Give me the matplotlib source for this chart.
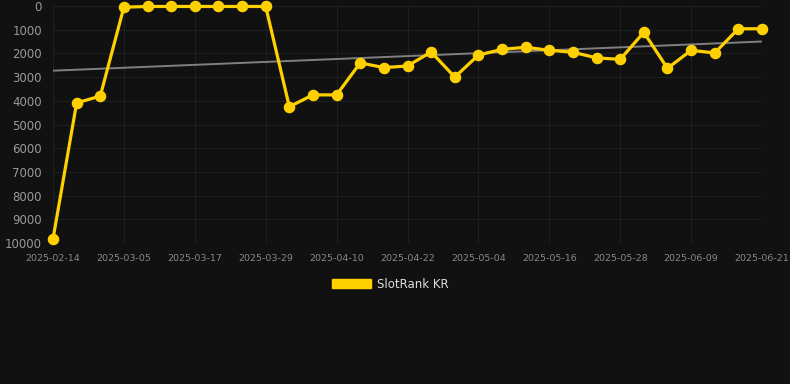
import matplotlib.pyplot as plt
from matplotlib.patches import Patch
import numpy as np

# rank values, one point per sample (category axis)
ranks = [9830, 4090, 3800,
         50, 20, 20, 20, 20, 20, 20,
         4250, 3750, 3750, 2400, 2600, 2530, 1940, 3000, 2070,
         1830, 1740, 1870, 1950, 2190, 2250, 1110, 2630, 1870,
         1980, 960, 960]
# labels shown every 3rd point
tick_labels = ['2025-02-14', '2025-03-05', '2025-03-17', '2025-03-29',
               '2025-04-10', '2025-04-22', '2025-05-04', '2025-05-16',
               '2025-05-28', '2025-06-09', '2025-06-21']
series_name = 'SlotRank KR'

bg = '#111111'
gold = '#FFD000'

fig = plt.figure(figsize=(7.9, 3.84), dpi=100, facecolor=bg)
ax = fig.add_axes([53/790, 1 - 243/384, (762 - 53)/790, (243 - 6)/384])
ax.set_facecolor(bg)

x = np.arange(len(ranks))
y = np.array(ranks, dtype=float)

# trend line (linear fit)
k, b = np.polyfit(x, y, 1)
ax.plot(x, k*x + b, color='#808080', lw=1.4, zorder=2)

ax.plot(x, y, color=gold, lw=2.3, marker='o', ms=7.3, zorder=3, clip_on=False)

ax.set_xlim(0, len(ranks) - 1)
ax.set_ylim(10000, 0)
ax.set_yticks(np.arange(0, 10001, 1000))
ax.set_xticks(x[::3])
ax.set_xticklabels(tick_labels)

ax.grid(True, color='#1f1f1f', lw=0.8)
for s in ax.spines.values():
    s.set_visible(False)
ax.tick_params(axis='y', length=0, pad=8, labelsize=8.5, labelcolor='#999999')
ax.tick_params(axis='x', length=0, pad=8, labelsize=6.8, labelcolor='#888888')

handle = Patch(facecolor=gold, edgecolor=gold)
fig.legend([handle], [series_name], loc='center', bbox_to_anchor=(390/790, 1 - 284/384),
           frameon=False, fontsize=8.5, labelcolor='#dddddd',
           handlelength=3.3, handleheight=0.9, handletextpad=0.5)

plt.savefig('out.png', dpi=100, facecolor=bg)
